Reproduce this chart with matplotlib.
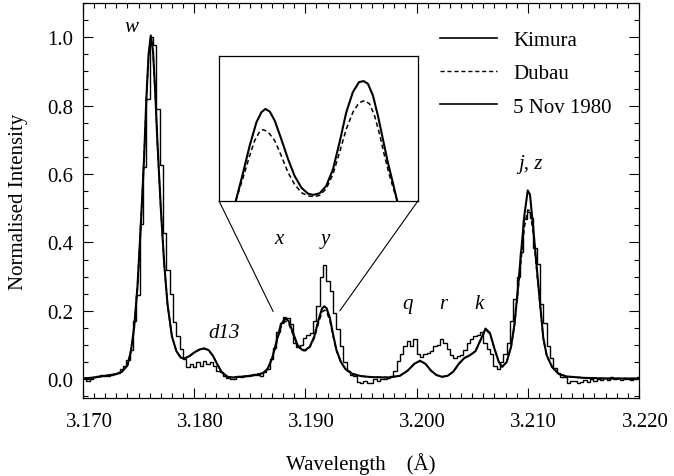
import matplotlib
matplotlib.use("Agg")
import matplotlib.pyplot as plt
import numpy as np
from matplotlib.lines import Line2D
from matplotlib.patches import ConnectionPatch
from matplotlib.ticker import MultipleLocator, FormatStrFormatter
from matplotlib.transforms import ScaledTranslation

plt.rcParams['font.family'] = ['Liberation Serif', 'DejaVu Serif']
plt.rcParams['font.size'] = 15

# theoretical spectra (Kimura solid, Dubau dashed)
wave = [3.1700, 3.1710, 3.1720, 3.1730, 3.1735, 3.1740, 3.1743, 3.1746, 3.1749, 3.1752,
        3.1755, 3.1757, 3.1759, 3.1761, 3.1763, 3.1765, 3.1767, 3.1770, 3.1773, 3.1776,
        3.1780, 3.1784, 3.1788, 3.1791, 3.1796, 3.1800, 3.1805, 3.1809, 3.1813, 3.1817,
        3.1821, 3.1825, 3.1830, 3.1835, 3.1845, 3.1855, 3.1862, 3.1866, 3.1870, 3.1874,
        3.1878, 3.1882, 3.1885, 3.1889, 3.1893, 3.1897, 3.1900, 3.1904, 3.1908, 3.1912,
        3.1915, 3.1917, 3.1919, 3.1922, 3.1925, 3.1928, 3.1932, 3.1936, 3.1942, 3.1950,
        3.1960, 3.1975, 3.1985, 3.1992, 3.1998, 3.2003, 3.2008, 3.2013, 3.2018, 3.2023,
        3.2028, 3.2033, 3.2038, 3.2043, 3.2048, 3.2053, 3.2058, 3.2062, 3.2066, 3.2070,
        3.2074, 3.2077, 3.2081, 3.2085, 3.2088, 3.2091, 3.2094, 3.2097, 3.2100, 3.2102,
        3.2105, 3.2108, 3.2111, 3.2114, 3.2117, 3.2122, 3.2128, 3.2135, 3.2150, 3.2170,
        3.2200]
kimura = [0.002, 0.005, 0.010, 0.015, 0.022, 0.040, 0.080, 0.150, 0.270, 0.450,
          0.650, 0.820, 0.950, 1.005, 0.960, 0.840, 0.690, 0.500, 0.340, 0.220,
          0.125, 0.082, 0.063, 0.060, 0.068, 0.078, 0.087, 0.090, 0.085, 0.068,
          0.042, 0.020, 0.007, 0.005, 0.008, 0.012, 0.018, 0.030, 0.060, 0.110,
          0.160, 0.178, 0.170, 0.135, 0.100, 0.086, 0.085, 0.095, 0.125, 0.175,
          0.207, 0.213, 0.208, 0.180, 0.130, 0.085, 0.050, 0.030, 0.016, 0.009,
          0.006, 0.005, 0.010, 0.025, 0.045, 0.054, 0.045, 0.025, 0.012, 0.007,
          0.010, 0.022, 0.045, 0.062, 0.070, 0.082, 0.118, 0.148, 0.135, 0.090,
          0.050, 0.036, 0.050, 0.095, 0.160, 0.260, 0.370, 0.480, 0.552, 0.540,
          0.440, 0.330, 0.224, 0.120, 0.070, 0.035, 0.015, 0.008, 0.004, 0.002,
          0.002]
dubau = [0.002, 0.005, 0.010, 0.015, 0.022, 0.040, 0.080, 0.150, 0.270, 0.450,
         0.650, 0.815, 0.945, 1.000, 0.955, 0.835, 0.685, 0.500, 0.340, 0.220,
         0.125, 0.082, 0.063, 0.060, 0.068, 0.078, 0.087, 0.090, 0.085, 0.068,
         0.042, 0.020, 0.007, 0.005, 0.008, 0.012, 0.018, 0.030, 0.058, 0.105,
         0.152, 0.170, 0.163, 0.130, 0.097, 0.084, 0.083, 0.093, 0.120, 0.166,
         0.196, 0.202, 0.198, 0.172, 0.125, 0.083, 0.050, 0.030, 0.016, 0.009,
         0.006, 0.005, 0.010, 0.025, 0.045, 0.053, 0.045, 0.025, 0.012, 0.007,
         0.010, 0.022, 0.045, 0.062, 0.070, 0.082, 0.116, 0.145, 0.133, 0.090,
         0.050, 0.036, 0.050, 0.093, 0.155, 0.250, 0.350, 0.445, 0.495, 0.492,
         0.425, 0.320, 0.218, 0.118, 0.070, 0.035, 0.015, 0.008, 0.004, 0.002,
         0.002]

# observed spectrum, 5 Nov 1980 (bins of 0.0003 A starting at 3.1700)
bin_start = 3.1700
bin_width = 0.0003
observed = [0.003, -0.005, 0.000, 0.005, 0.010, 0.012, 0.010, 0.008, 0.012, 0.015,
            0.018, 0.030, 0.040, 0.055, 0.085, 0.170, 0.245, 0.455, 0.620, 0.820,
            1.000, 0.978, 0.790, 0.627, 0.427, 0.320, 0.249, 0.166, 0.127, 0.088,
            0.060, 0.035, 0.045, 0.035, 0.050, 0.040, 0.052, 0.045, 0.050, 0.038,
            0.025, 0.022, 0.010, 0.003, 0.000, 0.002, 0.008, 0.005, 0.010, 0.008,
            0.012, 0.015, 0.012, 0.008, 0.020, 0.030, 0.058, 0.090, 0.137, 0.165,
            0.183, 0.180, 0.160, 0.105, 0.095, 0.100, 0.120, 0.130, 0.135, 0.170,
            0.215, 0.300, 0.334, 0.288, 0.258, 0.195, 0.146, 0.097, 0.050, 0.024,
            0.012, 0.008, -0.008, -0.012, -0.005, -0.012, -0.010, 0.000, -0.005, 0.002,
            0.000, 0.004, 0.008, 0.024, 0.054, 0.073, 0.097, 0.112, 0.097, 0.117,
            0.073, 0.065, 0.073, 0.078, 0.083, 0.097, 0.100, 0.117, 0.107, 0.088,
            0.070, 0.063, 0.068, 0.070, 0.085, 0.105, 0.117, 0.125, 0.130, 0.137,
            0.105, 0.088, 0.073, 0.039, 0.029, 0.049, 0.073, 0.107, 0.170, 0.234,
            0.300, 0.371, 0.468, 0.490, 0.472, 0.385, 0.336, 0.220, 0.164, 0.097,
            0.063, 0.034, 0.018, 0.005, 0.005, -0.010, -0.005, -0.005, -0.010, -0.008,
            -0.003, -0.008, 0.000, -0.004, 0.002, -0.002, 0.004, -0.002, 0.005, 0.000,
            0.004, -0.003, 0.002, 0.000, -0.002, 0.002, 0.005]

# line labels
line_names = ['w', 'd13', 'x', 'y', 'q', 'r', 'k', 'j, z']
name_x = [3.1744, 3.1827, 3.1876, 3.1918, 3.1992, 3.2024, 3.2056, 3.2102]
name_y = [1.03, 0.137, 0.41, 0.41, 0.22, 0.22, 0.22, 0.63]

# inset (zoom on x and y lines), positions relative to the inset box
inset_pos_k = [0.084, 0.121, 0.154, 0.188, 0.213, 0.233, 0.255, 0.280, 0.313, 0.347,
               0.380, 0.414, 0.447, 0.472, 0.506, 0.539, 0.573, 0.606, 0.640, 0.673,
               0.704, 0.727, 0.749, 0.774, 0.799, 0.824, 0.849, 0.874, 0.896]
inset_kimura = [0.0, 0.196, 0.381, 0.543, 0.612, 0.635, 0.617, 0.554, 0.427, 0.289,
                0.173, 0.092, 0.051, 0.042, 0.053, 0.104, 0.219, 0.404, 0.612, 0.751,
                0.820, 0.827, 0.808, 0.727, 0.589, 0.427, 0.266, 0.127, 0.0]
inset_pos_d = [0.084, 0.121, 0.154, 0.179, 0.204, 0.221, 0.246, 0.280, 0.313, 0.347,
               0.380, 0.414, 0.447, 0.476, 0.506, 0.539, 0.573, 0.606, 0.640, 0.673,
               0.704, 0.732, 0.757, 0.782, 0.807, 0.832, 0.858, 0.883, 0.896]
inset_dubau = [0.0, 0.162, 0.312, 0.416, 0.478, 0.492, 0.478, 0.416, 0.312, 0.196,
               0.115, 0.058, 0.035, 0.030, 0.039, 0.085, 0.185, 0.335, 0.497, 0.612,
               0.677, 0.693, 0.670, 0.589, 0.462, 0.312, 0.173, 0.058, 0.0]

fig = plt.figure(figsize=(6.74, 4.77), dpi=100)
ax = fig.add_axes([0.1231, 0.1635, 0.8249, 0.8281])

edges = bin_start + bin_width * np.arange(len(observed) + 1)
ax.stairs(observed, edges, color='black', lw=1.0)
ax.plot(wave, kimura, '-', color='black', lw=1.5)
ax.plot(wave, dubau, '--', color='black', lw=1.1, dashes=(3, 2))

ax.set_xlim(3.170, 3.220)
ax.set_ylim(-0.055, 1.10)
ax.xaxis.set_major_locator(MultipleLocator(0.010))
ax.xaxis.set_minor_locator(MultipleLocator(0.001))
ax.yaxis.set_major_locator(MultipleLocator(0.2))
ax.yaxis.set_minor_locator(MultipleLocator(0.05))
ax.xaxis.set_major_formatter(FormatStrFormatter('%.3f'))
ax.yaxis.set_major_formatter(FormatStrFormatter('%.1f'))
ax.tick_params(which='both', direction='in', top=True, right=True, width=0.8)
ax.tick_params(which='major', length=7)
ax.tick_params(which='minor', length=3.5)
ax.tick_params(axis='x', pad=10)
ax.tick_params(axis='y', pad=7)
for s in ax.spines.values():
    s.set_linewidth(0.9)

shift = ScaledTranslation(6 / 100, 0, fig.dpi_scale_trans)
for lab in ax.get_xticklabels():
    lab.set_transform(lab.get_transform() + shift)

ax.set_xlabel('Wavelength    (Å)', labelpad=15)
ax.set_ylabel('Normalised Intensity', labelpad=14)

for n, xx, yy in zip(line_names, name_x, name_y):
    ax.text(xx, yy, n, style='italic', ha='center', va='center', fontsize=15)

handles = [Line2D([], [], color='black', lw=1.2),
           Line2D([], [], color='black', lw=1.0, ls='--', dashes=(3, 2)),
           Line2D([], [], color='black', lw=1.2)]
ax.legend(handles, ['Kimura', 'Dubau', '5 Nov 1980'], loc='upper right',
          bbox_to_anchor=(0.981, 0.972), frameon=False, handlelength=2.7,
          handletextpad=0.8, labelspacing=0.65, borderaxespad=0.4)

ins = fig.add_axes([0.325, 0.5765, 0.295, 0.304])
ins.plot(inset_pos_k, inset_kimura, '-', color='black', lw=1.5)
ins.plot(inset_pos_d, inset_dubau, '--', color='black', lw=1.1, dashes=(3, 2))
ins.set_xlim(0, 1)
ins.set_ylim(0, 1)
ins.set_xticks([])
ins.set_yticks([])
for s in ins.spines.values():
    s.set_linewidth(0.9)

for corner, target in [((0, 0), (3.1871, 0.198)), ((1, 0), (3.1931, 0.200))]:
    con = ConnectionPatch(xyA=corner, coordsA=ins.transAxes,
                          xyB=target, coordsB=ax.transData,
                          color='black', lw=0.8)
    fig.add_artist(con)

fig.savefig('out.png', dpi=100)
